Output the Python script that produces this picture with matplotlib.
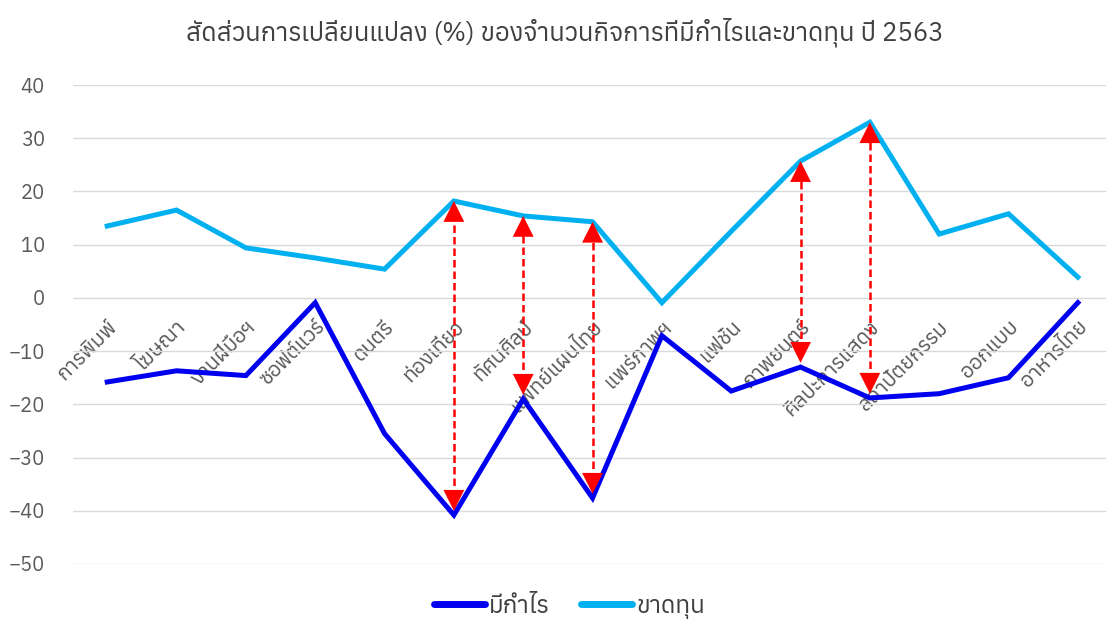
import matplotlib
matplotlib.use('Agg')
import matplotlib.pyplot as plt
from matplotlib import font_manager
from matplotlib.ft2font import FT2Font

# หาฟอนต์ที่มีอักษรไทย
thai_fonts = []
for f in font_manager.fontManager.ttflist:
    try:
        if 0x0E01 in FT2Font(f.fname).get_charmap():
            thai_fonts.append(f.name)
    except Exception:
        pass
thai_fonts = sorted(set(thai_fonts))
plt.rcParams['font.family'] = thai_fonts[:1] + ['DejaVu Sans']

categories = ['การพิมพ์', 'โฆษณา', 'งานฝีมือฯ', 'ซอฟต์แวร์', 'ดนตรี', 'ท่องเที่ยว',
              'ทัศนศิลป์', 'แพทย์แผนไทย', 'แพร่ภาพฯ', 'แฟชั่น', 'ภาพยนตร์',
              'ศิลปะการแสดง', 'สถาปัตยกรรม', 'ออกแบบ', 'อาหารไทย']
profit = [-15.8, -13.7, -14.6, -0.9, -25.5, -40.8, -19.0, -37.6, -7.1, -17.5,
          -13.0, -18.8, -18.0, -15.0, -0.9]
loss = [13.5, 16.5, 9.4, 7.5, 5.4, 18.2, 15.4, 14.3, -0.9, 12.5,
        25.7, 33.0, 12.0, 15.8, 3.9]
arrow_idx = [5, 6, 7, 10, 11]

gray = '#595959'
fig = plt.figure(figsize=(11.06, 6.32), dpi=100)
ax = fig.add_axes([0.0656, 0.1076, 0.9403, 0.7579])

x = list(range(len(categories)))
ax.plot(x, profit, color='#0000F0', lw=3.6, label='มีกำไร', solid_joinstyle='miter', zorder=3)
ax.plot(x, loss, color='#00B0F0', lw=3.6, label='ขาดทุน', solid_joinstyle='miter', zorder=3)

# ลูกศรแสดงช่องว่างระหว่างสองเส้น
for i in arrow_idx:
    lo = profit[i] + 0.8
    hi = loss[i]
    ax.vlines(i, lo + 2.5, hi - 2.5, colors='#FF0000', linestyles=(0, (3, 1.6)), lw=1.8, zorder=4)
    for tip, tail in ((hi, hi - 2.8), (lo, lo + 2.8)):
        ax.annotate('', xy=(i, tip), xytext=(i, tail),
                    arrowprops=dict(arrowstyle='-|>,head_length=1.0,head_width=0.5',
                                    color='#FF0000', lw=0, mutation_scale=15,
                                    shrinkA=0, shrinkB=0),
                    zorder=5)

ax.set_xlim(-0.5, 14.5)
ax.set_ylim(-50, 40)
ax.set_yticks(range(-50, 41, 10))
ax.grid(axis='y', color='#D9D9D9', lw=1)
ax.set_axisbelow(True)
for s in ax.spines.values():
    s.set_visible(False)
ax.spines['bottom'].set_position(('data', 0))
ax.set_xticks(x)
ax.set_xticklabels(categories, rotation=45, ha='right', va='top',
                   rotation_mode='anchor', color=gray, fontsize=15)
ax.tick_params(axis='x', length=0, pad=14)
ax.tick_params(axis='y', length=0, pad=20, labelcolor=gray, labelsize=14.5)

fig.suptitle('สัดส่วนการเปลี่ยนแปลง (%) ของจำนวนกิจการที่มีกำไรและขาดทุน ปี 2563',
             x=0.511, y=0.972, fontsize=18.5, color='#404040')
leg = fig.legend(loc='lower center', bbox_to_anchor=(0.515, -0.014), ncol=2, frameon=False,
                 fontsize=17.5, handlelength=2.1, columnspacing=1.3, handletextpad=0.15,
                 labelcolor='#404040')
for ln in leg.get_lines():
    ln.set_linewidth(5)
    ln.set_solid_capstyle('round')

fig.savefig('out.png', dpi=100)
